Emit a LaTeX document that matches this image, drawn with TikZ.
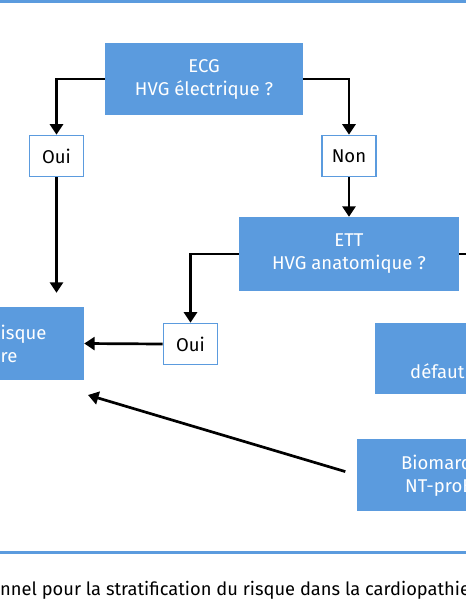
\documentclass[tikz,border=0pt]{standalone}
\usepackage{fontspec}
\setmainfont{Fira Sans}
\usetikzlibrary{arrows.meta}
\definecolor{bluebox}{HTML}{5B9BDE}
\definecolor{blueline}{HTML}{5B9BDE}
\begin{document}
\begin{tikzpicture}[x=1pt,y=-1pt,
  bigbox/.style={fill=bluebox, draw=none, text=white, align=center, font=\fontsize{18.5}{23}\selectfont, inner sep=0pt},
  ansbox/.style={fill=white, draw=bluebox, line width=1.6pt, font=\fontsize{18.5}{20}\selectfont, minimum width=54pt, minimum height=41pt, inner sep=0pt},
  btext/.style={text=white, font=\fontsize{18.5}{23}\selectfont, inner sep=0pt},
  arr/.style={line width=2.7pt, -{Triangle[width=13pt,length=10.5pt]}},
  conn/.style={line width=2.7pt},
  rule/.style={draw=blueline, line width=3pt}]
\useasboundingbox (0,0) rectangle (466,600);
% rules
\draw[rule] (0,1.5) -- (466,1.5);
\draw[rule] (0,552) -- (466,552);
% boxes
\node[bigbox, minimum width=198pt, minimum height=72pt] (ecg) at (204,79) {ECG\\HVG électrique ?};
\node[ansbox] (oui1) at (56.5,156) {Oui};
\node[ansbox] (non) at (349,156) {Non};
\node[bigbox, minimum width=220pt, minimum height=74pt] (ett) at (349,254) {ETT\\HVG anatomique ?};
\node[ansbox] (oui2) at (190.5,344) {Oui};
\node[bigbox, minimum width=184pt, minimum height=73pt] (lbox) at (-8,343.5) {};
\node[btext, anchor=west, align=left] (ltext) at (0.5,344) {\llap{R}isque\\\llap{cardiovasculai}re};
\node[bigbox, minimum width=185pt, minimum height=71pt] (dbox) at (467.5,358.5) {};
\node[btext, anchor=base west] (dtext) at (410,378) {défaut};
\node[bigbox, minimum width=203pt, minimum height=72pt] (bio) at (458.5,475) {};
\node[btext, anchor=west, align=left] (biotext) at (401,476) {Biomarqueurs\\\hspace*{4pt}NT-proBNP};
% caption
\node[anchor=base west, inner sep=0pt, font=\fontsize{18.3}{22}\selectfont] (cap) at (0,595)
  {\llap{Arbre décisio}nnel pour la stratification du risque dans la cardiopathie hypertensive};
% connectors
\coordinate (offR) at (480,254);
\coordinate (tgt) at (88,395);
\draw[arr] (ecg.west) -| (oui1.north);
\draw[arr] (ecg.east) -| (non.north);
\draw[arr, shorten >=14pt] (oui1.south) -- (oui1.south |- lbox.north);
\draw[arr] (non.south) -- (ett.north);
\draw[arr] (ett.west) -| (oui2.north);
\draw[conn] (ett.east) -- (offR);
\draw[arr] (oui2.west) -- (lbox.east);
\draw[arr, shorten <=12pt] (bio.west) -- (tgt);
\end{tikzpicture}
\end{document}
